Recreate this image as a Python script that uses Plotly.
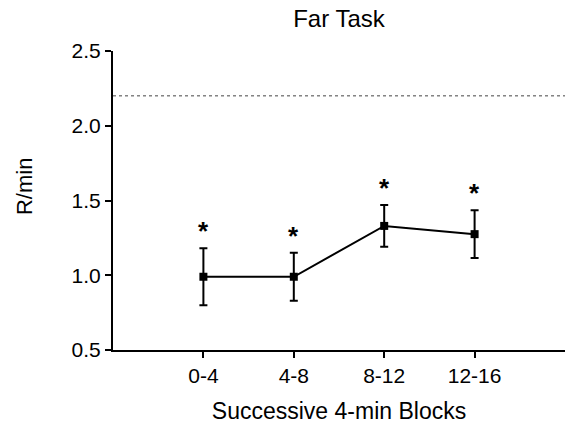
import plotly.graph_objects as go

# Response rate per successive 4-min block
blocks = ["0-4", "4-8", "8-12", "12-16"]
rate = [0.99, 0.99, 1.33, 1.275]
rate_err = [0.19, 0.16, 0.14, 0.16]
significant = [True, True, True, True]
reference_level = 2.2

y_ticks = [0.5, 1.0, 1.5, 2.0, 2.5]
y_tick_text = ["0.5", "1.0", "1.5", "2.0", "2.5"]

x_pos = list(range(len(blocks)))
font = "Liberation Sans, Arial, sans-serif"

fig = go.Figure()

# Dotted reference line across the plot
fig.add_trace(go.Scatter(
    x=[-1, 4], y=[reference_level, reference_level], mode="lines",
    line=dict(color="#444444", width=1, dash="dot"),
    hoverinfo="skip", showlegend=False,
))

fig.add_trace(go.Scatter(
    x=x_pos, y=rate, mode="lines+markers",
    line=dict(color="black", width=2),
    marker=dict(symbol="square", size=8, color="black"),
    error_y=dict(type="data", array=rate_err, visible=True,
                 color="black", thickness=2, width=4),
    showlegend=False,
))

# Significance asterisks above the error bars
for xi, yi, ei, sig in zip(x_pos, rate, rate_err, significant):
    if sig:
        fig.add_annotation(
            x=xi, y=yi + ei, text="<b>*</b>", showarrow=False,
            yanchor="bottom", yshift=0,
            font=dict(family=font, size=26, color="black"),
        )

# Y axis title
fig.add_annotation(
    xref="paper", yref="paper", x=0, y=0.545, xshift=-89,
    text="R/min", textangle=-90, showarrow=False,
    xanchor="center", yanchor="middle",
    font=dict(family=font, size=22, color="black"),
)

fig.update_layout(
    width=565, height=424,
    margin=dict(l=113, r=0, t=51, b=74),
    paper_bgcolor="white", plot_bgcolor="white",
    font=dict(family=font, size=21, color="black"),
    title=dict(text="Far Task", xref="paper", x=0.5, xanchor="center",
               y=0.957, yanchor="middle", font=dict(size=24, family=font)),
)

fig.update_xaxes(
    range=[-1, 4], tickmode="array", tickvals=x_pos, ticktext=blocks,
    showgrid=False, zeroline=False, showline=True, linecolor="black",
    linewidth=2, ticks="outside", ticklen=6, tickwidth=2, tickcolor="black",
    title=dict(text="Successive 4-min Blocks", standoff=18,
               font=dict(size=23)),
    tickfont=dict(size=21),
)
fig.update_yaxes(
    range=[0.5, 2.5], tickmode="array", tickvals=y_ticks, ticktext=y_tick_text,
    showgrid=False, zeroline=False, showline=True, linecolor="black",
    linewidth=2, ticks="outside", ticklen=6, tickwidth=2, tickcolor="black",
    tickfont=dict(size=21),
)

fig.write_html("out.html")
